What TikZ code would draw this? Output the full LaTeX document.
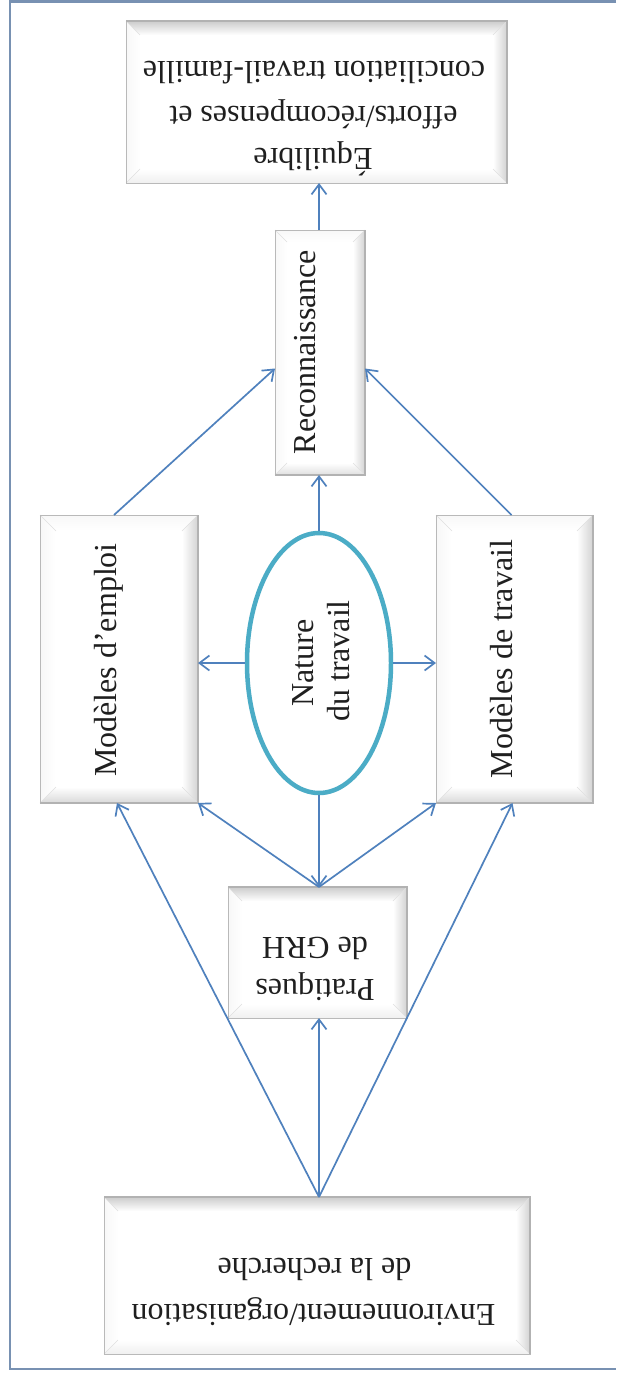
\documentclass[tikz,border=0pt]{standalone}
\usepackage{fontspec}
\setmainfont{Liberation Serif}
\usetikzlibrary{arrows.meta,shapes.geometric,calc}
\definecolor{arrowblue}{RGB}{79,129,189}
\definecolor{ellteal}{RGB}{75,172,198}
\definecolor{framecol}{RGB}{120,145,178}
\tikzset{
  boxst/.style={rectangle, draw=gray!55, line width=0.8pt, fill=white, inner sep=0pt, outer sep=0pt},
  txt/.style={font=\fontsize{32}{38}\selectfont, inner sep=0pt, outer sep=0pt, text=black!88, anchor=base},
  arr/.style={draw=arrowblue, line width=1.7pt, -{Straight Barb[length=10pt,width=15pt]}},
  frameline/.style={draw=framecol, line width=2.5pt},
  shadowline/.style={draw=gray!60, line width=1.8pt},
  ellst/.style={ellipse, draw=ellteal, line width=4.5pt, fill=white, inner sep=0pt, minimum width=144pt, minimum height=260pt}
}
\newcommand{\bevel}[6]{%
  \path (#1.north west) coordinate (bA) (#1.north east) coordinate (bB)
        (#1.south east) coordinate (bC) (#1.south west) coordinate (bD)
        ([shift={(#2pt,-#2pt)}]#1.north west) coordinate (ba)
        ([shift={(-#2pt,-#2pt)}]#1.north east) coordinate (bb)
        ([shift={(-#2pt,#2pt)}]#1.south east) coordinate (bc)
        ([shift={(#2pt,#2pt)}]#1.south west) coordinate (bd);
  \shade[top color=#3, bottom color=white] (bA)--(bB)--(bb)--(ba)--cycle;
  \shade[left color=white, right color=#4] (bB)--(bC)--(bc)--(bb)--cycle;
  \shade[top color=white, bottom color=#5] (bC)--(bD)--(bd)--(bc)--cycle;
  \shade[left color=#6, right color=white] (bD)--(bA)--(ba)--(bd)--cycle;
  \draw[gray!25, line width=0.5pt] (bA)--(ba) (bB)--(bb) (bC)--(bc) (bD)--(bd);
  \draw[gray!55, line width=0.8pt] (bA) rectangle (bC);
}
\begin{document}
\begin{tikzpicture}[x=1pt,y=-1pt]
\useasboundingbox (0,0) rectangle (616,1375);
\fill[white] (0,0) rectangle (616,1375);
% frame
\draw[frameline] (616,1.5) -- (10,1.5) -- (10,1369) -- (616,1369);

% boxes
\node[boxst, minimum width=381pt, minimum height=162pt] (top) at (316.5,102) {};
\node[boxst, minimum width=90pt, minimum height=245pt] (recon) at (320,352.5) {};
\node[boxst, minimum width=158pt, minimum height=288pt] (emploi) at (119,659) {};
\node[boxst, minimum width=157pt, minimum height=288pt] (travail) at (514.5,659) {};
\node[boxst, minimum width=179pt, minimum height=131pt] (prat) at (317.5,952.5) {};
\node[boxst, minimum width=426pt, minimum height=157pt] (env) at (317,1275.5) {};

\bevel{top}{14}{gray!40}{gray!35}{gray!12}{gray!6}
\draw[shadowline] (top.north west) -- (top.north east) -- (top.south east);
\bevel{recon}{12}{gray!6}{gray!35}{gray!25}{gray!6}
\draw[shadowline] (recon.north east) -- (recon.south east) -- (recon.south west);
\bevel{emploi}{16}{gray!6}{gray!35}{gray!30}{gray!6}
\draw[shadowline] (emploi.north east) -- (emploi.south east) -- (emploi.south west);
\bevel{travail}{16}{gray!6}{gray!35}{gray!30}{gray!6}
\draw[shadowline] (travail.north east) -- (travail.south east) -- (travail.south west);
\bevel{prat}{14}{gray!40}{gray!35}{gray!12}{gray!6}
\draw[shadowline] (prat.north west) -- (prat.north east) -- (prat.south east);
\bevel{env}{14}{gray!40}{gray!35}{gray!12}{gray!6}
\draw[shadowline] (env.north west) -- (env.north east) -- (env.south east);

% ellipse
\node[ellst] (nature) at (319,663) {};

% texts
\node[txt, rotate=180] (topa) at (313,149) {Équilibre};
\node[txt, rotate=180] (topb) at (313.5,107) {efforts/récompenses et};
\node[txt, rotate=180] (topc) at (314,62) {conciliation travail-famille};
\node[txt, rotate=90] (recontxt) at (315,352) {Reconnaissance};
\node[txt, rotate=90] (emptxt) at (116,660) {Modèles d’emploi};
\node[txt, rotate=90] (travtxt) at (512,659) {Modèles de travail};
\node[txt, rotate=90] (nata) at (313,663) {Nature};
\node[txt, rotate=90] (natb) at (349,661) {du travail};
\node[txt, rotate=180] (prata) at (315,979) {Pratiques};
\node[txt, rotate=180] (pratb) at (315,937) {de GRH};
\node[txt, rotate=180] (enva) at (313.5,1304) {Environnement/organisation};
\node[txt, rotate=180] (envb) at (314.5,1258) {de la recherche};

% connectors
\draw[arr] (recon.north -| nature.north) -- (top.south -| nature.north);
\draw[arr] (nature.north) -- (recon.south -| nature.north);
\draw[arr] ([xshift=-5pt]emploi.north) -- ([yshift=-16pt]recon.west);
\draw[arr] ([xshift=-3pt]travail.north) -- ([yshift=-16pt]recon.east);
\draw[arr] (nature.west) -- (nature.west -| emploi.east);
\draw[arr] (nature.east) -- (nature.east -| travail.west);
\draw[arr] (nature.south) -- (prat.north -| nature.south);
\draw[arr] (prat.north -| nature.south) -- (emploi.south east);
\draw[arr] (prat.north -| nature.south) -- (travail.south west);
\draw[arr] (env.north -| nature.south) -- (prat.south -| nature.south);
\draw[arr] (env.north -| nature.south) -- ([xshift=-2pt]emploi.south);
\draw[arr] (env.north -| nature.south) -- ([xshift=-2pt]travail.south);
\end{tikzpicture}
\end{document}
